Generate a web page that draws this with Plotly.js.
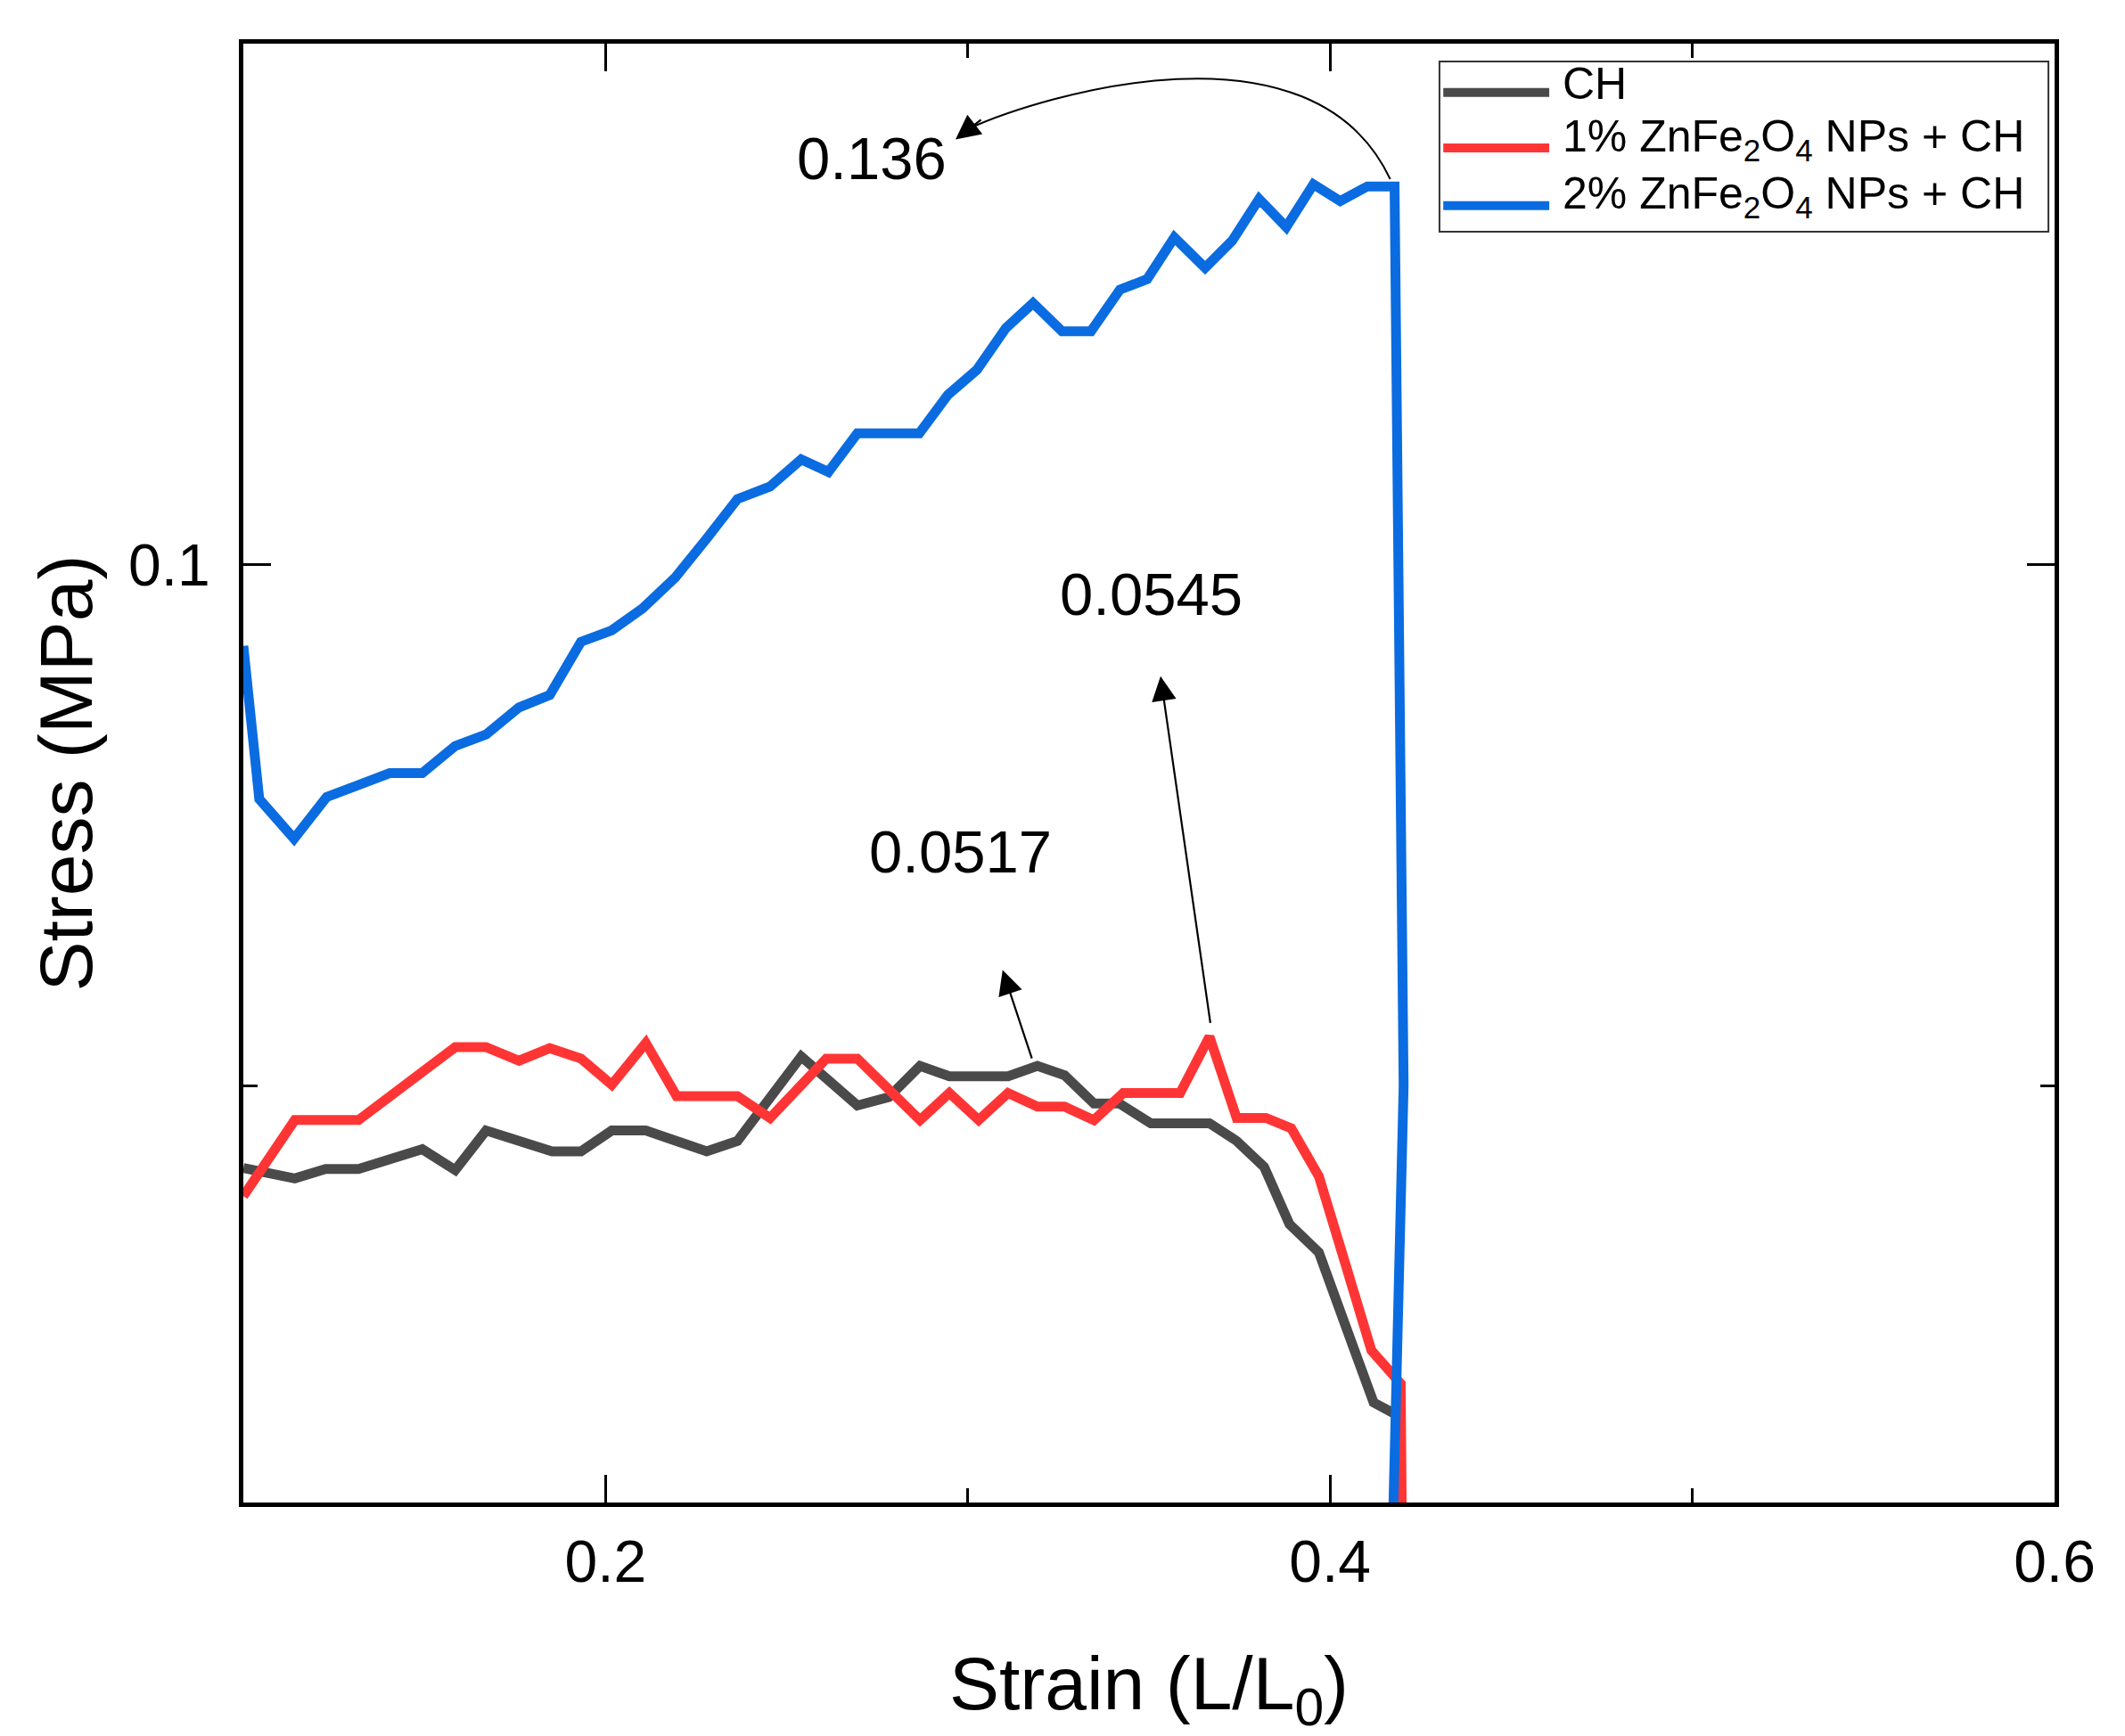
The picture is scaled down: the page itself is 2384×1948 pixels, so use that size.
<!DOCTYPE html>
<html>
<head>
<meta charset="utf-8">
<script src="https://cdn.plot.ly/plotly-3.0.1.min.js"></script>
<style>
  body { margin: 0; background: #fff; }
  #myDiv { width: 2384px; height: 1948px; }
</style>
</head>
<body>
<div id="myDiv"></div>
<script>
// strain / stress
let chX = [0.1000, 0.1142, 0.1227, 0.1318, 0.1494, 0.1585, 0.1670, 0.1852, 0.1932, 0.2017,
  0.2111, 0.2279, 0.2364, 0.2540, 0.2695, 0.2782, 0.2868, 0.2949, 0.3111, 0.3192,
  0.3267, 0.3348, 0.3418, 0.3505, 0.3667, 0.3742, 0.3818, 0.3888, 0.3969, 0.4039,
  0.4120, 0.4179];
let chY = [0.0421, 0.0411, 0.0420, 0.0420, 0.0439, 0.0419, 0.0457, 0.0437, 0.0437, 0.0457,
  0.0457, 0.0437, 0.0447, 0.0528, 0.0481, 0.0489, 0.0519, 0.0509, 0.0509, 0.0519,
  0.0510, 0.0483, 0.0483, 0.0464, 0.0464, 0.0447, 0.0422, 0.0367, 0.0340, 0.0273,
  0.0196, 0.0185];

let zn1X = [0.1000, 0.1142, 0.1318, 0.1585, 0.1670, 0.1761, 0.1846, 0.1932, 0.2017, 0.2111,
  0.2196, 0.2364, 0.2454, 0.2609, 0.2695, 0.2868, 0.2949, 0.3030, 0.3111, 0.3192,
  0.3267, 0.3348, 0.3429, 0.3586, 0.3667, 0.3742, 0.3823, 0.3893, 0.3969, 0.4044,
  0.4114, 0.4195, 0.4200];
let zn1Y = [0.0394, 0.0467, 0.0467, 0.0537, 0.0537, 0.0524, 0.0536, 0.0526, 0.0501, 0.0541,
  0.0490, 0.0490, 0.0469, 0.0526, 0.0526, 0.0467, 0.0493, 0.0467, 0.0493, 0.0480,
  0.0480, 0.0467, 0.0493, 0.0493, 0.0547, 0.0469, 0.0469, 0.0459, 0.0413, 0.0327,
  0.0246, 0.0214, 0.0];

let zn2X = [0.1000, 0.1044, 0.1140, 0.1230, 0.1313, 0.1404, 0.1494, 0.1585, 0.1670, 0.1761,
  0.1846, 0.1932, 0.2017, 0.2102, 0.2193, 0.2279, 0.2364, 0.2454, 0.2540, 0.2615,
  0.2695, 0.2866, 0.2945, 0.3025, 0.3105, 0.3180, 0.3260, 0.3340, 0.3420, 0.3495,
  0.3570, 0.3655, 0.3730, 0.3804, 0.3879, 0.3954, 0.4028, 0.4103, 0.4178, 0.4203,
  0.4168];
let zn2Y = [0.0922, 0.0775, 0.0737, 0.0777, 0.0788, 0.0800, 0.0800, 0.0826, 0.0837, 0.0863,
  0.0875, 0.0926, 0.0937, 0.0958, 0.0988, 0.1025, 0.1063, 0.1075, 0.1101, 0.1089,
  0.1126, 0.1126, 0.1163, 0.1187, 0.1227, 0.1251, 0.1224, 0.1224, 0.1264, 0.1274,
  0.1314, 0.1285, 0.1311, 0.1351, 0.1324, 0.1365, 0.1349, 0.1363, 0.1363, 0.0500,
  0.0];

let seriesNames = ["CH", "1% ZnFe<sub>2</sub>O<sub>4</sub> NPs + CH", "2% ZnFe<sub>2</sub>O<sub>4</sub> NPs + CH"];
let seriesColors = ["#4a4a4a", "#ff3535", "#0a6ce0"];

let xTitle = "Strain (L/L<sub>0</sub>)";
let yTitle = "Stress (MPa)";

let fontFam = "Arial, 'Liberation Sans', sans-serif";

function makeLine(x, y, i) {
  return {
    x: x,
    y: y,
    mode: "lines",
    name: seriesNames[i],
    showlegend: false,
    line: { color: seriesColors[i], width: 11, simplify: false }
  };
}

let data = [];
data.push(makeLine(chX, chY, 0));
data.push(makeLine(zn1X, zn1Y, 1));
data.push(makeLine(zn2X, zn2Y, 2));

// value labels with their arrows
let annotations = [];

function valueLabel(text, x, y) {
  annotations.push({
    x: x, y: y, xref: "x", yref: "y", text: text, showarrow: false,
    font: { family: fontFam, size: 67, color: "#000" }
  });
}

function arrow(tailX, tailY, tipX, tipY) {
  annotations.push({
    x: tipX, y: tipY, ax: tailX, ay: tailY,
    xref: "x", yref: "y", axref: "x", ayref: "y",
    text: "", showarrow: true, arrowhead: 2, arrowsize: 2.5, arrowwidth: 2.2,
    arrowcolor: "#000"
  });
}

valueLabel("0.136", 0.2735, 0.1390);
valueLabel("0.0545", 0.3505, 0.0972);
valueLabel("0.0517", 0.2980, 0.0725);

arrow(0.3670, 0.0559, 0.3532, 0.0893);
arrow(0.3178, 0.0525, 0.3096, 0.0611);
arrow(0.3040, 0.1428, 0.2966, 0.1408);

let shapes = [];

// curved arrow from the blue peak back to the 0.136 label
shapes.push({
  type: "path", xref: "x", yref: "y",
  path: "M 0.4166,0.1370 C 0.395,0.1530 0.320,0.1450 0.3000,0.1418",
  line: { color: "#000", width: 2 }
});

// hand-built legend so the line samples are long like the original
let legLeft = 0.6604, legRight = 0.9966, legTop = 0.9878, legBottom = 0.8711;
shapes.push({
  type: "rect", xref: "paper", yref: "paper",
  x0: legLeft, x1: legRight, y0: legBottom, y1: legTop,
  line: { color: "#333", width: 2 }, fillcolor: "#fff", layer: "above"
});

let legRows = [0.9665, 0.9285, 0.8890];
for (let i = 0; i < seriesNames.length; i++) {
  shapes.push({
    type: "line", xref: "paper", yref: "paper",
    x0: 0.6625, x1: 0.7210, y0: legRows[i], y1: legRows[i],
    line: { color: seriesColors[i], width: 10 }, layer: "above"
  });
  annotations.push({
    xref: "paper", yref: "paper", x: 0.7272, y: legRows[i] + 0.006,
    xanchor: "left", yanchor: "middle", showarrow: false,
    text: seriesNames[i],
    font: { family: fontFam, size: 50, color: "#000" }
  });
}

let axisCommon = {
  showline: true,
  linecolor: "#000",
  linewidth: 5,
  mirror: "allticks",
  showgrid: false,
  zeroline: false,
  ticks: "inside",
  ticklen: 31,
  tickwidth: 3,
  tickcolor: "#000",
  tickfont: { family: fontFam, size: 66, color: "#000" }
};

let layout = {
  width: 2384,
  height: 1948,
  margin: { l: 273, r: 79, t: 49, b: 262 },
  paper_bgcolor: "#fff",
  plot_bgcolor: "#fff",
  showlegend: false,
  xaxis: Object.assign({}, axisCommon, {
    range: [0.1, 0.6],
    tick0: 0,
    dtick: 0.2,
    ticklabelstandoff: 5,
    minor: { dtick: 0.1, ticks: "inside", ticklen: 16, tickwidth: 3, tickcolor: "#000" },
    title: { text: xTitle, standoff: 78, font: { family: fontFam, size: 84, color: "#000" } }
  }),
  yaxis: Object.assign({}, axisCommon, {
    range: [0.01, 0.15],
    tick0: 0,
    dtick: 0.1,
    ticklabelstandoff: 19,
    minor: { dtick: 0.05, ticks: "inside", ticklen: 16, tickwidth: 3, tickcolor: "#000" },
    title: { text: yTitle, standoff: 14, font: { family: fontFam, size: 84, color: "#000" } }
  }),
  shapes: shapes,
  annotations: annotations
};

Plotly.newPlot("myDiv", data, layout, { staticPlot: true });
</script>
</body>
</html>
